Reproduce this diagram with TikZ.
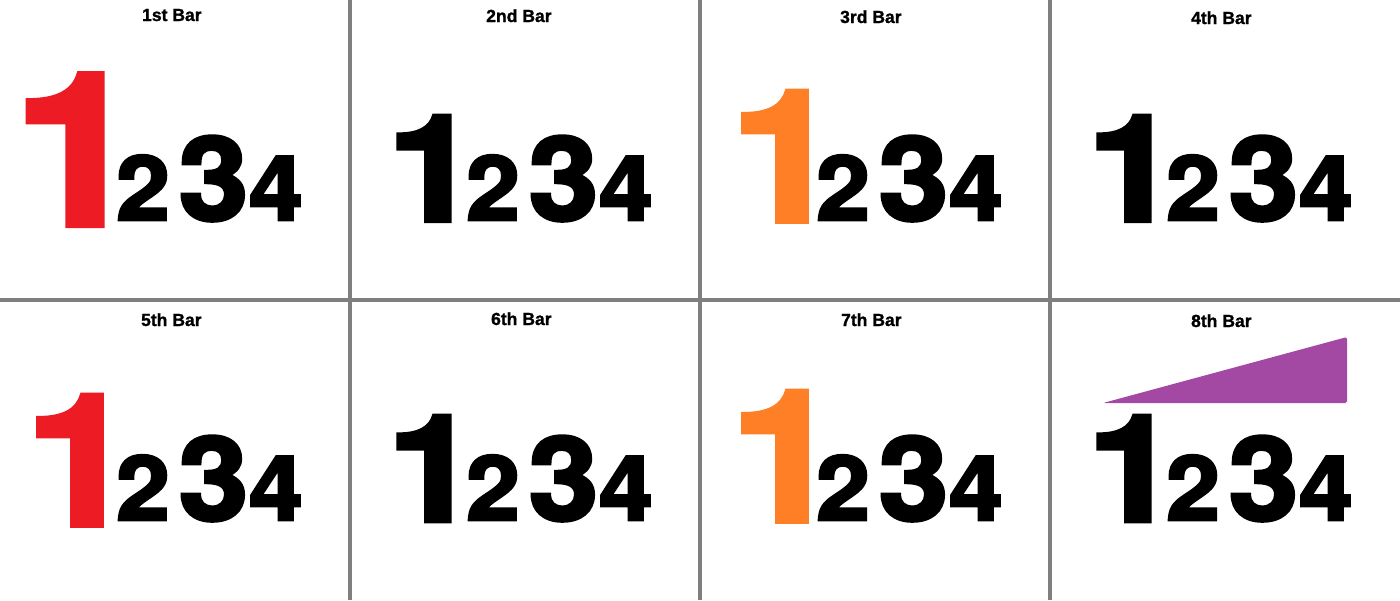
\documentclass[tikz,border=0pt]{standalone}
\usepackage{fontspec}
\setmainfont{Liberation Sans}
\newfontfamily\titlefont[FakeBold=1.2]{Liberation Sans Bold}
\newfontfamily\numfont[Extension=.otf,FakeBold=3,FakeStretch=1.08]{texgyreheros-bold}
\newfontfamily\onefont[Extension=.otf,FakeBold=3,FakeStretch=1.1]{texgyreheros-bold}
\usetikzlibrary{positioning}
\definecolor{BarRed}{RGB}{237,28,36}
\definecolor{BarOrange}{RGB}{255,127,39}
\definecolor{BarPurple}{RGB}{163,73,164}
\definecolor{BarGrid}{RGB}{127,127,127}

\begin{document}
\begin{tikzpicture}[x=0.02cm,y=-0.02cm,
    bartitle/.style={inner sep=0pt,anchor=base east,
      font={\titlefont\fontsize{10}{12}\selectfont}},
    digit/.style={inner sep=0pt,anchor=base}]
  \useasboundingbox (0,0) rectangle (1400,600);
  % panel grid
  \draw[BarGrid,line width=2.5pt] (350,0) -- (350,600)
    (700,0) -- (700,600) (1050,0) -- (1050,600) (0,300) -- (1400,300);
  % one panel per bar: title, then the counts 1 2 3 4
  \foreach \n/\cx/\cy/\ttl/\tb/\ocol/\osz/\ox/\ob in {
      1/0/0/1st/21/BarRed/121/78/225,
      2/350/0/2nd/22/black/84.5/83/221,
      3/700/0/3rd/23/BarOrange/104/86/221,
      4/1050/0/4th/24/black/84.5/83/221,
      5/0/300/5th/26/BarRed/104/81/225,
      6/350/300/6th/25/black/84.5/83/221,
      7/700/300/7th/26/BarOrange/104/86/221,
      8/1050/300/8th/27/black/84.5/83/221} {
    \node[bartitle] (title\n) at (\cx+202,\cy+\tb) {\ttl{} Bar};
    \node[digit,text=\ocol,font={\onefont\fontsize{\osz}{\osz}\selectfont}]
      (one\n) at (\cx+\ox,\cy+\ob) {1};
    \node[digit,font={\numfont\fontsize{51}{51}\selectfont}]
      (two\n) at (\cx+143,\cy+220) {2};
    \node[digit,font={\numfont\fontsize{66}{66}\selectfont}]
      (three\n) at (\cx+213.5,\cy+220) {3};
    \node[digit,font={\numfont\fontsize{51}{51}\selectfont}]
      (four\n) at (\cx+276,\cy+220) {4};
  }
  % crescendo wedge over the 8th bar
  \fill[BarPurple,rounded corners=1pt] (1103,403) -- (1347,337)
    -- (1347,403) -- cycle;
\end{tikzpicture}
\end{document}
